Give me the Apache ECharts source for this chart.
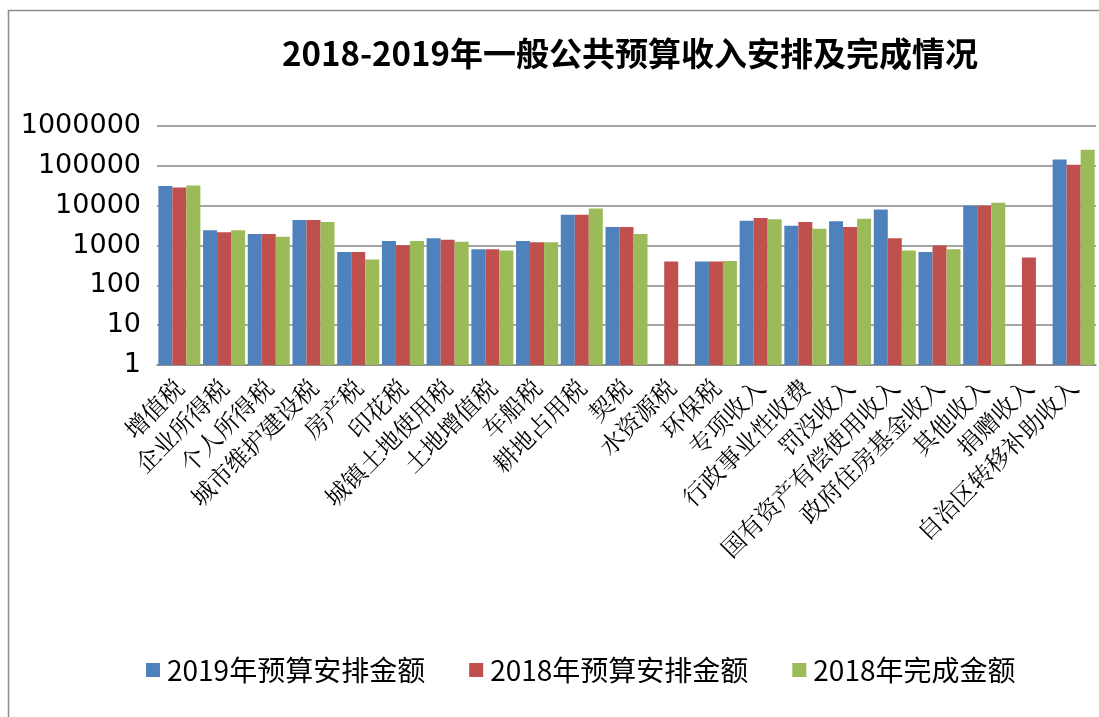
<!DOCTYPE html>
<html>
<head>
<meta charset="utf-8">
<script src="https://cdn.jsdelivr.net/npm/echarts@6/dist/echarts.min.js"></script>
<style>
html,body{margin:0;padding:0;background:#fff;}
#chart{width:1099px;height:717px;}
</style>
</head>
<body>
<div id="chart"></div>
<script>
var categories = ['增值税','企业所得税','个人所得税','城市维护建设税','房产税','印花税','城镇土地使用税','土地增值税','车船税','耕地占用税','契税','水资源税','环保税','专项收入','行政事业性收费','罚没收入','国有资产有偿使用收入','政府住房基金收入','其他收入','捐赠收入','自治区转移补助收入'];
var budget2019 = [31000,2400,1945,4360,689,1300,1515,804,1300,5930,2910,null,394,4200,3142,4035,8060,689,9960,null,144200];
var budget2018 = [28700,2140,1945,4360,689,1012,1403,804,1203,5930,2910,394,394,4890,3883,2910,1515,993,9960,497,105900];
var actual2018 = [32200,2400,1667,3880,443,1300,1250,744,1203,8550,1945,null,410,4530,2645,4710,744,804,11830,null,251700];
var seriesNames = ['2019年预算安排金额','2018年预算安排金额','2018年完成金额'];
var yTicks = [1,10,100,1000,10000,100000,1000000];

var chart = echarts.init(document.getElementById('chart'), null, {renderer:'canvas'});
var colors = ['#4F81BD','#C0504D','#9BBB59'];
var data = [budget2019, budget2018, actual2018];
chart.setOption({
  animation:false,
  color: colors,
  graphic:[{type:'rect', shape:{x:8.5,y:10.5,width:1200,height:800}, style:{fill:'none',stroke:'#8c8c8c',lineWidth:1.5}, silent:true, z:-1}],
  title:{text:'2018-2019年一般公共预算收入安排及完成情况', left:625, textAlign:'center', top:32,
    textStyle:{fontFamily:'"Noto Sans CJK SC", sans-serif', fontWeight:'bold', fontSize:33, color:'#000'}},
  legend:{data:seriesNames, bottom:28, left:141, itemWidth:14, itemHeight:14, itemGap:44, icon:'rect',
    textStyle:{fontFamily:'"Noto Sans CJK SC", sans-serif', fontSize:28, color:'#000', padding:[0,0,0,2]}},
  grid:{left:157, right:3, top:126, bottom:352, containLabel:false},
  xAxis:{type:'category', data:categories,
    axisLine:{lineStyle:{color:'#878787', width:1.5}},
    axisTick:{show:false},
    axisLabel:{interval:0, rotate:45, margin:18, color:'#000', fontSize:24,
      fontFamily:'"Noto Serif CJK SC", "Noto Sans CJK SC", serif'}},
  yAxis:{type:'log', logBase:10, min:1, max:1000000,
    axisLine:{show:false}, axisTick:{show:false},
    splitLine:{lineStyle:{color:'#878787', width:1.5}},
    axisLabel:{margin:16, color:'#000', fontSize:27, fontFamily:'"DejaVu Sans", sans-serif',
      formatter:function(v){ return String(Math.round(v)); }}},
  series: seriesNames.map(function(n,i){
    return {name:n, type:'bar', data:data[i], barGap:'0%', barCategoryGap:'6%',
      itemStyle:{color:colors[i]}};
  })
});
</script>
</body>
</html>
